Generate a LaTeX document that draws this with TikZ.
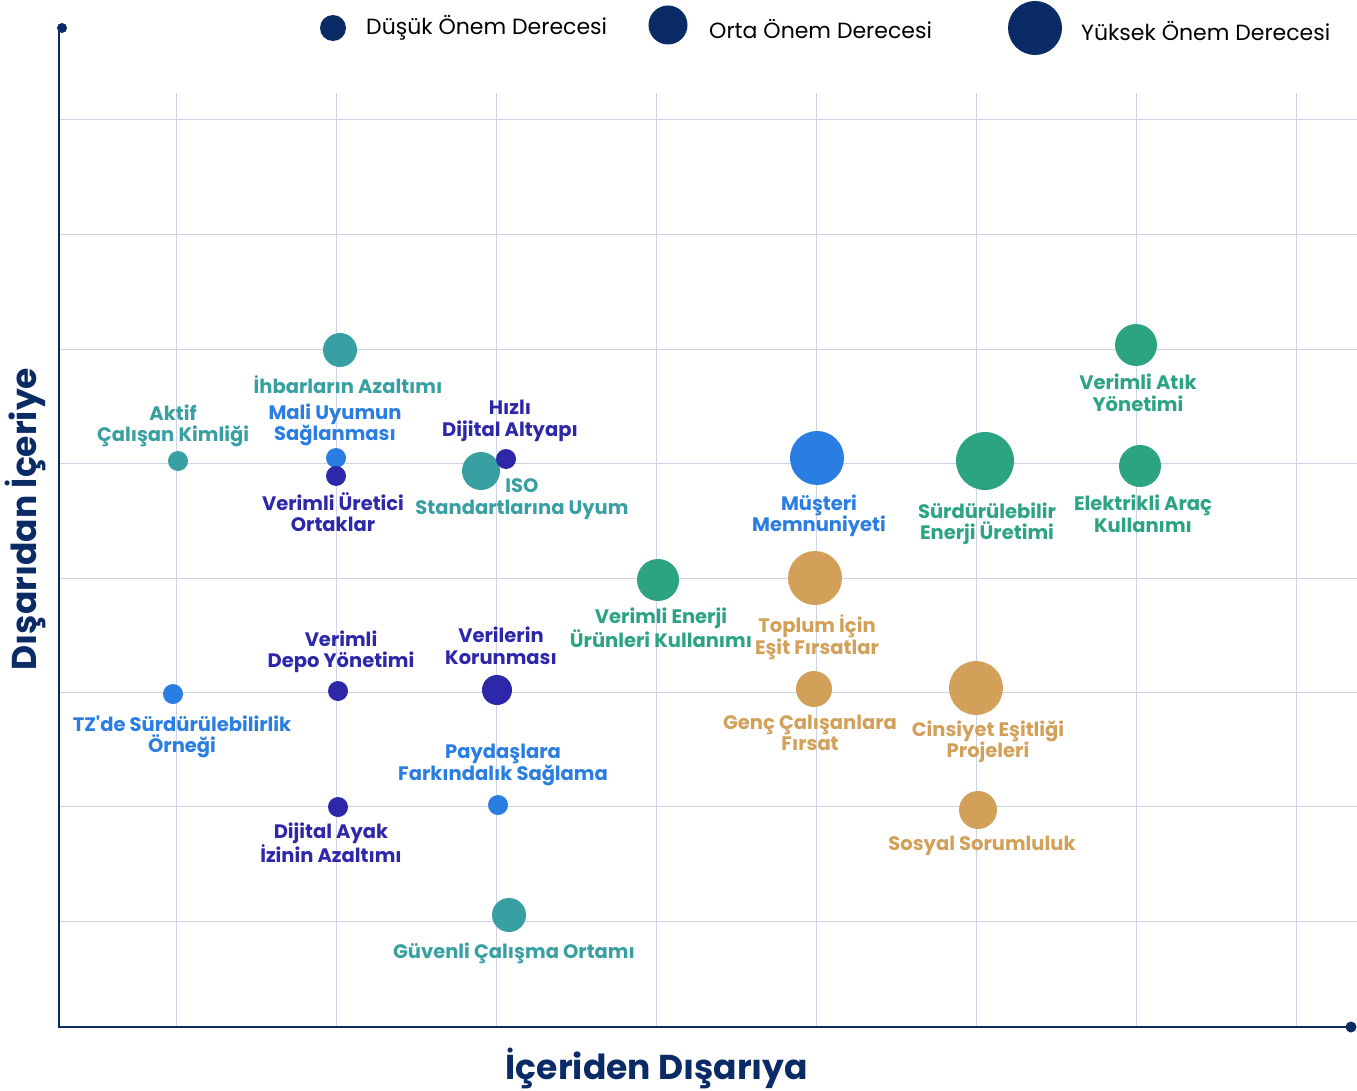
\documentclass[tikz,border=0pt]{standalone}
\usepackage{fontspec}
\setmainfont{Poppins}
\definecolor{navy}{HTML}{0A2B66}
\definecolor{gridc}{HTML}{CBD3E4}
\definecolor{teal}{HTML}{38A0A3}
\definecolor{grn}{HTML}{2CA482}
\definecolor{blu}{HTML}{2A7DE1}
\definecolor{ind}{HTML}{2D27AA}
\definecolor{gld}{HTML}{D2A058}
\begin{document}
\begin{tikzpicture}[x=1pt,y=-1pt,
  bub/.style={circle,inner sep=0pt,minimum size=#1},
  lbl/.style={align=center,font=\fontsize{19.5}{21.5}\selectfont\bfseries,inner sep=0pt},
  leg/.style={anchor=west,font=\fontsize{22}{25}\selectfont,inner sep=0pt,text=black},
  gridline/.style={draw=gridc,line width=0.9pt},
  axis/.style={draw=navy,line width=2.6pt}]
\useasboundingbox (0,0) rectangle (1357,1091);
% grid
\foreach \y in {119,234,349,463,578,692,806,921} \draw[gridline] (59,\y) -- (1357,\y);
\foreach \x in {176,336,496,656,816,976,1136,1296} \draw[gridline] (\x,93) -- (\x,1027);
% axes
\coordinate (ytop) at (62,28);
\coordinate (orig) at (59,1027);
\coordinate (xend) at (1351,1027);
\draw[axis] (ytop) -- (59,28) -- (orig) -- (xend);
\fill[navy] (ytop) circle (5);
\fill[navy] (xend) circle (5.5);
\node[font=\fontsize{34.5}{38}\selectfont\bfseries,text=navy] (xlab) at (657,1068) {İçeriden Dışarıya};
\node[font=\fontsize{34.5}{38}\selectfont\bfseries,text=navy,rotate=90] (ylab) at (25,519) {Dışarıdan İçeriye};
% legend
\node[bub=26pt,fill=navy] (l1) at (333,28) {};
\node[leg] (l1t) at (366,28) {Düşük Önem Derecesi};
\node[bub=39pt,fill=navy] (l2) at (668,25) {};
\node[leg] (l2t) at (709,29) {Orta Önem Derecesi};
\node[bub=54pt,fill=navy] (l3) at (1035,28) {};
\node[leg] (l3t) at (1081,31) {Yüksek Önem Derecesi};
% bubbles and labels
\node[bub=34pt,fill=teal] (b1) at (340,350) {};
\node[lbl,text=teal] (t1) at (348,385) {İhbarların Azaltımı};
\node[bub=20pt,fill=teal] (b2) at (178,461) {};
\node[lbl,text=teal] (t2) at (173,426) {Aktif\\Çalışan Kimliği};
\node[bub=20pt,fill=blu] (b3) at (336,458) {};
\node[lbl,text=blu] (t3) at (335,425) {Mali Uyumun\\Sağlanması};
\node[bub=20pt,fill=ind] (b4) at (336,476) {};
\node[lbl,text=ind] (t4) at (333,512) {Verimli Üretici\\Ortaklar};
\node[bub=38pt,fill=teal] (b6) at (481,471) {};
\node[bub=20pt,fill=ind] (b5) at (506,459) {};
\node[lbl,text=ind] (t5) at (510,421) {Hızlı\\Dijital Altyapı};
\node[lbl,text=teal] (t6) at (522,499) {ISO\\Standartlarına Uyum};
\node[bub=54pt,fill=blu] (b7) at (817,458) {};
\node[lbl,text=blu] (t7) at (819,516) {Müşteri\\Memnuniyeti};
\node[bub=58pt,fill=grn] (b8) at (985,461) {};
\node[lbl,text=grn] (t8) at (987,524) {Sürdürülebilir\\Enerji Üretimi};
\node[bub=42pt,fill=grn] (b9) at (1140,466) {};
\node[lbl,text=grn] (t9) at (1143,514) {Elektrikli Araç\\Kullanımı};
\node[bub=42pt,fill=grn] (b10) at (1136,345) {};
\node[lbl,text=grn] (t10) at (1138,393) {Verimli Atık\\Yönetimi};
\node[bub=42pt,fill=grn] (b11) at (658,580) {};
\node[lbl,text=grn] (t11) at (661,628) {Verimli Enerji\\Ürünleri Kullanımı};
\node[bub=54pt,fill=gld] (b12) at (815,578) {};
\node[lbl,text=gld] (t12) at (817,637) {Toplum İçin\\Eşit Fırsatlar};
\node[bub=36pt,fill=gld] (b13) at (814,689) {};
\node[lbl,text=gld] (t13) at (810,733) {Genç Çalışanlara\\Fırsat};
\node[bub=54pt,fill=gld] (b14) at (976,688) {};
\node[lbl,text=gld] (t14) at (988,742) {Cinsiyet Eşitliği\\Projeleri};
\node[bub=38pt,fill=gld] (b15) at (978,810) {};
\node[lbl,text=gld] (t15) at (982,846) {Sosyal Sorumluluk};
\node[bub=20pt,fill=blu] (b16) at (173,694) {};
\node[lbl,text=blu] (t16) at (182,737) {TZ\textquotesingle de Sürdürülebilirlik\\Örneği};
\node[bub=20pt,fill=ind] (b17) at (338,691) {};
\node[lbl,text=ind] (t17) at (341,652) {Verimli\\Depo Yönetimi};
\node[bub=30pt,fill=ind] (b18) at (497,690) {};
\node[lbl,text=ind] (t18) at (501,646) {Verilerin\\Korunması};
\node[bub=20pt,fill=blu] (b19) at (498,805) {};
\node[lbl,text=blu] (t19) at (503,765) {Paydaşlara\\Farkındalık Sağlama};
\node[bub=20pt,fill=ind] (b20) at (338,807) {};
\node[lbl,text=ind] (t20) at (331,843) {Dijital Ayak\\İzinin Azaltımı};
\node[bub=34pt,fill=teal] (b21) at (509,915) {};
\node[lbl,text=teal] (t21) at (514,953) {Güvenli Çalışma Ortamı};
\end{tikzpicture}
\end{document}
